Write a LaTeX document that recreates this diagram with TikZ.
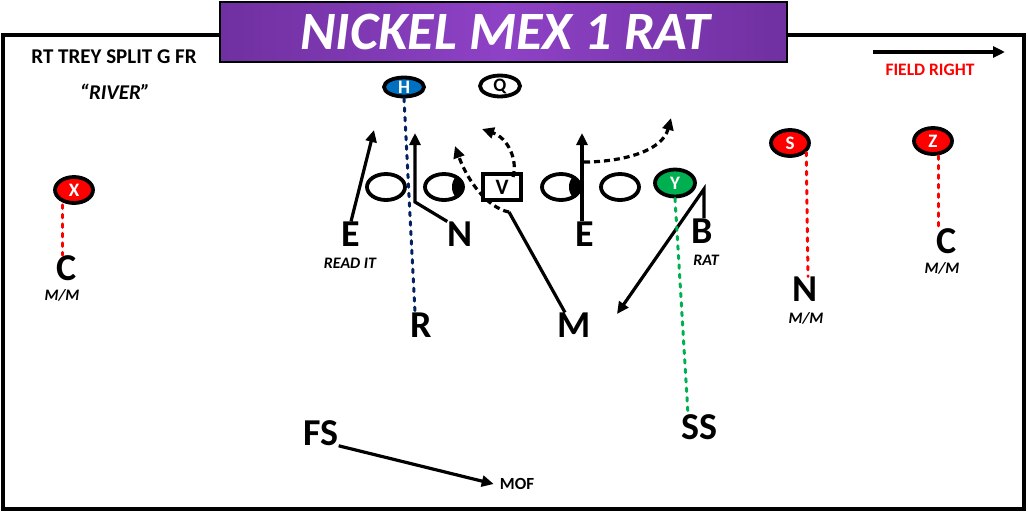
\documentclass[tikz,border=0pt]{standalone}
\usepackage{fontspec}
\setmainfont{Carlito}
\usetikzlibrary{arrows.meta,positioning,shapes.geometric}
\definecolor{titlepurple}{RGB}{112,48,160}
\definecolor{titlelight}{RGB}{142,66,198}
\definecolor{hblue}{RGB}{0,112,192}
\definecolor{navydot}{RGB}{0,32,96}
\definecolor{wrred}{RGB}{255,0,0}
\definecolor{ygreen}{RGB}{0,176,80}

\begin{document}
\begin{tikzpicture}[x=1pt,y=-1pt,
  player/.style={ellipse, draw, line width=3.8pt, minimum width=38pt, minimum height=26pt, inner sep=0pt, font=\fontsize{19}{19}\selectfont\bfseries},
  letter/.style={inner sep=0pt, font=\fontsize{38}{38}\selectfont\bfseries},
  tag/.style={inner sep=0pt, font=\fontsize{16}{16}\selectfont\bfseries\itshape},
  route/.style={line width=3.2pt},
  tip/.style={-{Triangle[length=12pt,width=11pt]}},
  dotline/.style={line width=3pt, line cap=round, dash pattern=on 3.5pt off 6pt}]
\useasboundingbox (0,0) rectangle (1028,512);
\draw[line width=3.5pt] (3,35) rectangle (1024,509);
% title
\shade[left color=titlepurple, right color=titlepurple, middle color=titlelight] (220,2) rectangle (787,62);
\draw[line width=2pt] (220,2) rectangle (787,62);
\node[inner sep=0pt, text=white, font=\fontsize{54}{54}\selectfont\bfseries\itshape] (title) at (505,32) {NICKEL MEX 1 RAT};
\node[inner sep=0pt, font=\fontsize{21}{21}\selectfont\bfseries] (form) at (114,57) {RT TREY SPLIT G FR};
\node[inner sep=0pt, font=\fontsize{21}{21}\selectfont\bfseries\itshape] (call) at (115,92) {``RIVER''};
% field right
\coordinate (frL) at (873,52);
\coordinate (frR) at (1005,52);
\draw[route, tip] (frL) -- (frR);
\node[inner sep=0pt, text=wrred, font=\fontsize{17.5}{17.5}\selectfont\bfseries] (fieldright) at (930,70) {FIELD RIGHT};

% offense
\node[player, fill=hblue, text=white, minimum width=40pt, minimum height=19pt] (H) at (404,87) {H};
\node[player, minimum width=40pt, minimum height=19pt] (Q) at (500,86) {Q};
\node[player, fill=wrred, text=white] (X) at (74,190) {X};
\node[player, fill=wrred, text=white] (S) at (790,143) {S};
\node[player, fill=wrred, text=white] (Z) at (933,141) {Z};
\node[player] (ol1) at (386,187) {};
\node[player] (ol2) at (444,187) {};
\node[draw, line width=3.5pt, minimum width=38pt, minimum height=26pt, inner sep=0pt, font=\fontsize{22}{22}\selectfont\bfseries] (vbox) at (502,187) {V};
\node[player] (ol4) at (561,187) {};
\node[player] (ol5) at (620,187) {};
\node[player, fill=ygreen, text=white, minimum width=40pt, minimum height=27pt] (Y) at (675,183) {Y};
\begin{scope}
  \clip (444,187) ellipse (19pt and 13pt);
  \fill (463,187) ellipse (11pt and 14pt);
\end{scope}
\begin{scope}
  \clip (561,187) ellipse (19pt and 13pt);
  \fill (580,187) ellipse (11pt and 14pt);
\end{scope}

% defense
\node[letter] (eL) at (351,234) {E};
\node[tag] (readit) at (350,263) {READ IT};
\node[letter] (nL) at (460,234) {N};
\node[letter] (eR) at (585,234) {E};
\node[letter] (bR) at (702,231) {B};
\node[tag] (rat) at (706,260) {RAT};
\node[letter] (rL) at (421,325) {R};
\node[letter] (mL) at (574,325) {M};
\node[letter] (ss) at (699,427) {SS};
\node[letter] (fs) at (321,433) {FS};
\node[inner sep=0pt, font=\fontsize{17}{17}\selectfont\bfseries] (mof) at (517,484) {MOF};
\node[letter] (cL) at (67,268) {C};
\node[tag] (mmL) at (62,295) {M/M};
\node[letter] (nR) at (805,289) {N};
\node[tag] (mmN) at (806,318) {M/M};
\node[letter] (cR) at (947,241) {C};
\node[tag] (mmC) at (942,268) {M/M};

% routes and reads
\coordinate (eLtip) at (374,130);
\coordinate (nLbend) at (415,202);
\coordinate (nLtip) at (415,133);
\coordinate (eRtip) at (582,133);
\coordinate (eRbr) at (584,162);
\coordinate (outtip) at (671,118);
\coordinate (vtipA) at (455,146);
\coordinate (vtipB) at (482,129);
\coordinate (mTop) at (509,212);
\coordinate (bTop) at (704,189);
\coordinate (bTip) at (617,314);
\draw[route, tip] (eL.north) -- (eLtip);
\draw[route, tip] (nL.north west) -- (nLbend) -- (nLtip);
\draw[route, tip] ([xshift=-3pt]eR.north) -- (eRtip);
\draw[route, tip, dash pattern=on 6pt off 4pt] (eRbr) .. controls (620,162) and (662,152) .. (outtip);
\draw[route, tip, dash pattern=on 6pt off 4pt] (mTop) .. controls (488,208) and (468,182) .. (vtipA);
\draw[route, tip, dash pattern=on 6pt off 4pt] ([xshift=11pt,yshift=10pt]vbox.center) .. controls (518,160) and (508,138) .. (vtipB);
\draw[route] (mTop) -- ([xshift=-9pt]mL.north);
\draw[route, tip] ([xshift=2pt]bR.north) -- (bTop) -- (bTip);
\draw[route, tip] (fs.south east) -- ([xshift=-6pt]mof.west);
\draw[dotline, navydot] (H.south) -- ([xshift=-6pt]rL.north);
\draw[dotline, ygreen] (Y.south) -- ([xshift=-11pt]ss.north);
\draw[dotline, wrred] ([xshift=-12pt]X.south) -- ([xshift=-5pt]cL.north);
\draw[dotline, wrred] (S.-30) -- ([xshift=3pt]nR.north);
\draw[dotline, wrred] ([xshift=5pt]Z.south) -- ([xshift=-9pt]cR.north);
\end{tikzpicture}
\end{document}
